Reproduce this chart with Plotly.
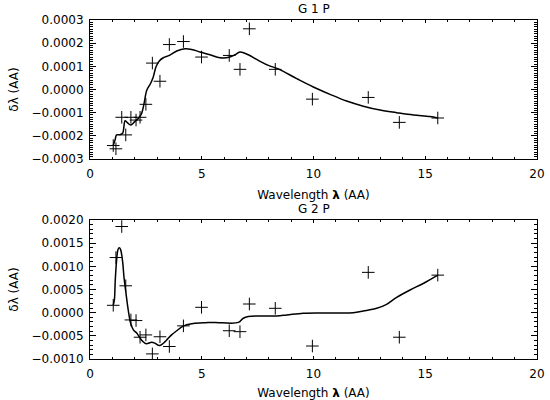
import plotly.graph_objects as go

# ---- data: observed points (same wavelengths in both panels) ----
wave_pts = [1.04, 1.16, 1.42, 1.60, 1.83, 2.06, 2.24, 2.50, 2.79, 3.13, 3.55,
            4.18, 4.99, 6.23, 6.71, 7.13, 8.29, 9.95, 12.45, 13.84, 15.56]
g1_pts = [-0.000242, -0.000256, -0.000120, -0.000196, -0.000120, -0.000132,
          -0.000120, -0.000064, 0.000114, 0.0000356, 0.000194, 0.000207,
          0.000140, 0.000147, 0.000087, 0.000262, 0.000087, -0.0000416,
          -0.0000343, -0.000142, -0.000123]
g2_pts = [0.000159, 0.00119, 0.00186, 0.00058, -0.000157, -0.00017, -0.00053,
          -0.00048, -0.00089, -0.00052, -0.00073, -0.000285, 0.000116,
          -0.00039, -0.00041, 0.000187, 0.000094, -0.00072, 0.00087,
          -0.00053, 0.00081]

# ---- data: fitted curves ----
g1_curve_x = [1.04, 1.12, 1.19, 1.34, 1.46, 1.57, 1.67, 1.82, 2.00, 2.16, 2.31,
              2.42, 2.54, 2.71, 2.83, 2.95, 3.10, 3.28, 3.55, 3.88, 4.25, 4.55,
              4.92, 5.37, 5.82, 6.26, 6.49, 6.71, 7.08, 7.53, 7.98, 8.40, 9.25,
              9.99, 10.74, 11.48, 12.23, 12.98, 13.72, 14.47, 15.21, 15.56]
g1_curve_y = [-2.42e-4, -2.18e-4, -1.96e-4, -1.95e-4, -1.89e-4, -1.35e-4,
              -1.43e-4, -1.53e-4, -1.39e-4, -1.25e-4, -1.03e-4, -0.60e-4,
              -0.03e-4, 0.26e-4, 0.54e-4, 0.97e-4, 1.23e-4, 1.37e-4, 1.47e-4,
              1.66e-4, 1.76e-4, 1.73e-4, 1.62e-4, 1.50e-4, 1.37e-4, 1.40e-4,
              1.50e-4, 1.62e-4, 1.50e-4, 1.26e-4, 1.04e-4, 0.90e-4, 0.47e-4,
              0.11e-4, -0.21e-4, -0.50e-4, -0.72e-4, -0.89e-4, -1.00e-4,
              -1.10e-4, -1.17e-4, -1.23e-4]
g2_curve_x = [1.04, 1.09, 1.13, 1.19, 1.25, 1.31, 1.37, 1.46, 1.52, 1.61, 1.71,
              1.82, 1.94, 2.09, 2.24, 2.36, 2.51, 2.76, 2.91, 3.10, 3.28, 3.43,
              3.65, 3.88, 4.17, 4.55, 5.07, 5.29, 5.91, 6.64, 6.86, 7.08, 7.75,
              8.35, 8.80, 9.54, 10.29, 11.04, 11.78, 12.23, 12.83, 13.27, 13.72,
              14.32, 14.91, 15.56]
g2_curve_y = [0.165e-3, 0.27e-3, 0.70e-3, 1.13e-3, 1.36e-3, 1.40e-3, 1.36e-3,
              1.10e-3, 0.77e-3, 0.42e-3, 0.06e-3, -0.23e-3, -0.37e-3, -0.44e-3,
              -0.55e-3, -0.62e-3, -0.67e-3, -0.64e-3, -0.66e-3, -0.71e-3,
              -0.66e-3, -0.59e-3, -0.48e-3, -0.39e-3, -0.29e-3, -0.24e-3,
              -0.22e-3, -0.21e-3, -0.22e-3, -0.21e-3, -0.12e-3, -0.085e-3,
              -0.07e-3, -0.07e-3, -0.05e-3, -0.013e-3, -0.006e-3, -0.006e-3,
              0.0, 0.036e-3, 0.094e-3, 0.18e-3, 0.33e-3, 0.49e-3, 0.63e-3,
              0.81e-3]

titles = ["G 1 P", "G 2 P"]
x_title = "Wavelength <b>λ</b> (AA)"
y_title = "δλ (AA)"

FONT = dict(family="DejaVu Sans", size=12, color="black")

fig = go.Figure()
panels = [(g1_curve_x, g1_curve_y, g1_pts, "x", "y"),
          (g2_curve_x, g2_curve_y, g2_pts, "x2", "y2")]
for cx, cy, pts, xa, ya in panels:
    fig.add_trace(go.Scatter(x=cx, y=cy, mode="lines", xaxis=xa, yaxis=ya,
                             line=dict(color="black", width=1.5, shape="spline"),
                             showlegend=False))
    fig.add_trace(go.Scatter(x=wave_pts, y=pts, mode="markers", xaxis=xa, yaxis=ya,
                             marker=dict(symbol="cross-thin", size=9,
                                         line=dict(color="black", width=1)),
                             showlegend=False))

xcommon = dict(range=[0, 20], dtick=5, tick0=0, ticks="inside", ticklen=3,
               tickcolor="black", showline=True, linecolor="black", linewidth=1,
               mirror="ticks", showgrid=False, zeroline=False, automargin=False,
               minor=dict(dtick=1, ticks="inside", ticklen=2, tickcolor="black"),
               tickfont=FONT, ticklabelstandoff=4,
               title=dict(text=x_title, font=FONT, standoff=10))
ycommon = dict(ticks="inside", ticklen=6, tickcolor="black", showline=True,
               linecolor="black", linewidth=1, mirror="ticks", showgrid=False,
               zeroline=False, tickfont=FONT, ticklabelstandoff=3, automargin=False,
               title=dict(text=y_title, font=FONT, standoff=10))

fig.update_layout(
    width=550, height=400,
    margin=dict(l=90, r=13, t=20, b=41, autoexpand=False),
    paper_bgcolor="white", plot_bgcolor="white",
    xaxis=dict(domain=[0, 1], anchor="y", **xcommon),
    yaxis=dict(domain=[0.59, 1.0], anchor="x", range=[-0.0003, 0.0003],
               dtick=0.0001, tick0=0, tickformat=".4f",
               minor=dict(dtick=0.00001, ticks="inside", ticklen=3, tickcolor="black"),
               **ycommon),
    xaxis2=dict(domain=[0, 1], anchor="y2", **xcommon),
    yaxis2=dict(domain=[0.0, 0.41], anchor="x2", range=[-0.001, 0.002],
                dtick=0.0005, tick0=0, tickformat=".4f",
                minor=dict(dtick=0.0001, ticks="inside", ticklen=3, tickcolor="black"),
                **ycommon),
    annotations=[
        dict(text=titles[0], x=0.5, y=1.0, xref="paper", yref="paper",
             xanchor="center", yanchor="bottom", yshift=2, showarrow=False, font=FONT),
        dict(text=titles[1], x=0.5, y=0.41, xref="paper", yref="paper",
             xanchor="center", yanchor="bottom", yshift=2, showarrow=False, font=FONT),
    ],
)

fig.write_html("out.html", config={"displayModeBar": False},
               post_script="document.body.style.margin='0px';")
